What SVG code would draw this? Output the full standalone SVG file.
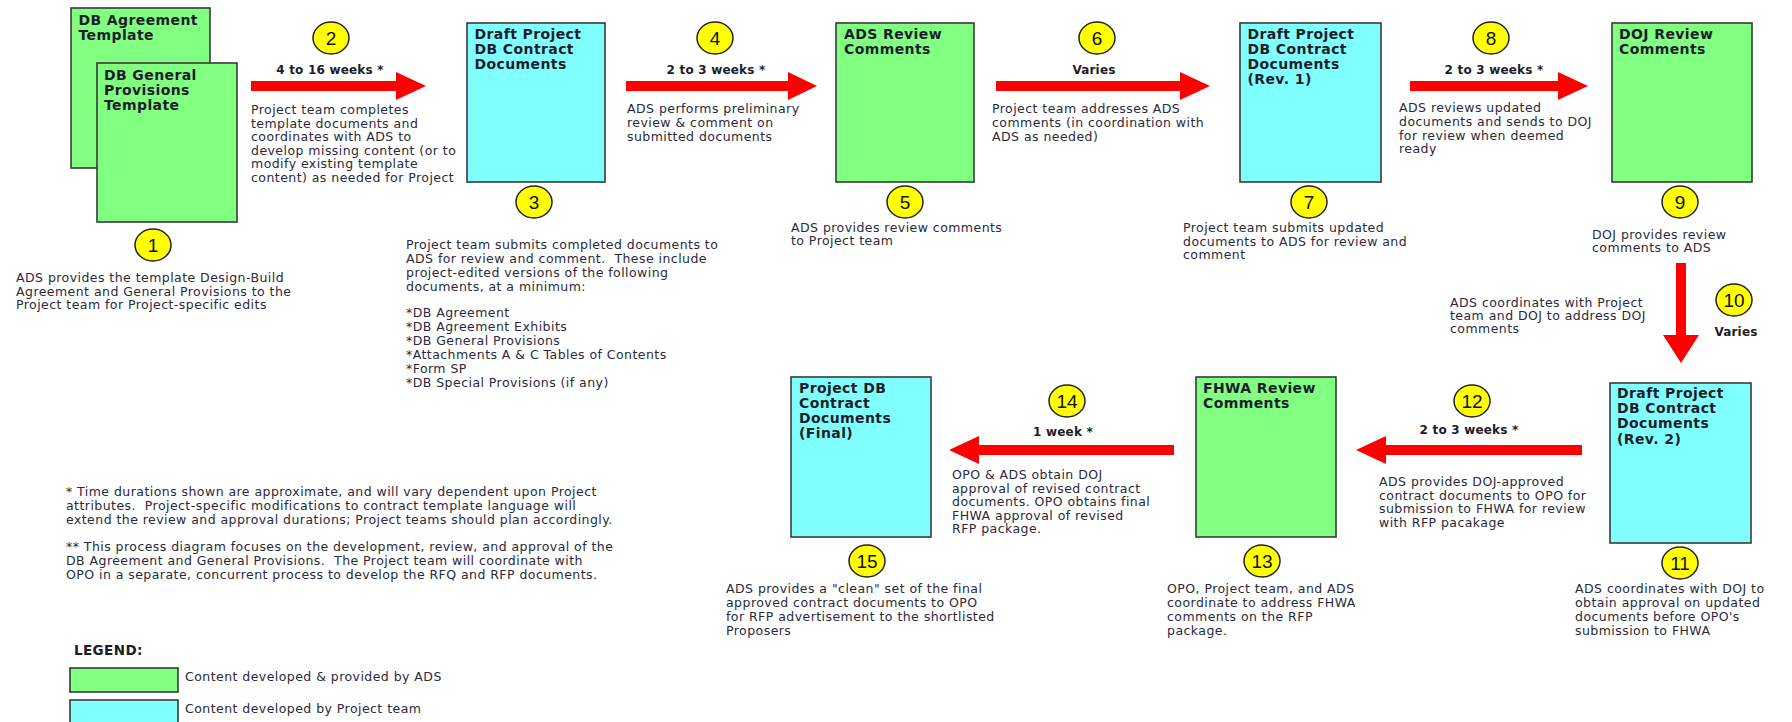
<svg xmlns="http://www.w3.org/2000/svg" width="1792" height="722" viewBox="0 0 1792 722">
<style>
.bx{stroke:#3a3a3a;stroke-width:1.6}
.g{fill:#80ff80}
.c{fill:#80ffff}
.t{font-family:"DejaVu Sans",sans-serif;font-weight:bold;font-size:14px;letter-spacing:0.4px;fill:#1c1c2a}
.b{font-family:"DejaVu Sans",sans-serif;font-size:12.5px;letter-spacing:0.45px;fill:#2a2a3a;white-space:pre}
.lbl{font-family:"DejaVu Sans",sans-serif;font-weight:bold;font-size:12px;letter-spacing:0.2px;fill:#1c1c2a;text-anchor:middle}
.n ellipse{fill:#ffff00;stroke:#222;stroke-width:1.5}
.n text{font-family:"Liberation Sans",Arial,sans-serif;font-size:19px;fill:#111;text-anchor:middle}
.arr{fill:#ff0000}
</style>
<rect width="1792" height="722" fill="#ffffff"/>

<g id="connectors">
<path class="arr" d="M251,81 H396 V72 L426,86 L396,100 V91 H251 Z"/>
<path class="arr" d="M626,81 H788 V72 L817,86 L788,100 V91 H626 Z"/>
<path class="arr" d="M996,81 H1180 V72 L1210,86 L1180,100 V91 H996 Z"/>
<path class="arr" d="M1410,81 H1558 V72 L1588,86 L1558,100 V91 H1410 Z"/>
<path class="arr" d="M1676,263 V335 H1663 L1681,363 L1699,335 H1686 V263 Z"/>
<path class="arr" d="M1582,445 H1386 V436 L1356,450 L1386,464 V455 H1582 Z"/>
<path class="arr" d="M1174,445 H979 V436 L949,450 L979,464 V455 H1174 Z"/>
</g>

<g id="node-db-agreement-template">
<rect class="bx g" x="71" y="8" width="139" height="160"/>
<text class="t"><tspan x="78.5" y="24.5">DB Agreement</tspan><tspan x="78.5" y="39.5">Template</tspan></text>
</g>
<g id="node-db-general-provisions-template">
<rect class="bx g" x="97" y="63" width="140" height="159"/>
<text class="t"><tspan x="104" y="80">DB General</tspan><tspan x="104" y="95">Provisions</tspan><tspan x="104" y="110">Template</tspan></text>
</g>
<g id="node-draft">
<rect class="bx c" x="467" y="23" width="138" height="159"/>
<text class="t"><tspan x="474.5" y="39">Draft Project</tspan><tspan x="474.5" y="54">DB Contract</tspan><tspan x="474.5" y="69">Documents</tspan></text>
</g>
<g id="node-ads-review">
<rect class="bx g" x="836" y="23" width="138" height="159"/>
<text class="t"><tspan x="844" y="39">ADS Review</tspan><tspan x="844" y="54">Comments</tspan></text>
</g>
<g id="node-draft-rev1">
<rect class="bx c" x="1240" y="23" width="141" height="159"/>
<text class="t"><tspan x="1247.5" y="39">Draft Project</tspan><tspan x="1247.5" y="54">DB Contract</tspan><tspan x="1247.5" y="69">Documents</tspan><tspan x="1247.5" y="84">(Rev. 1)</tspan></text>
</g>
<g id="node-doj-review">
<rect class="bx g" x="1612" y="23" width="140" height="159"/>
<text class="t"><tspan x="1619" y="39">DOJ Review</tspan><tspan x="1619" y="54">Comments</tspan></text>
</g>
<g id="node-draft-rev2">
<rect class="bx c" x="1610" y="383" width="141" height="160"/>
<text class="t"><tspan x="1617" y="398">Draft Project</tspan><tspan x="1617" y="413">DB Contract</tspan><tspan x="1617" y="428">Documents</tspan><tspan x="1617" y="444">(Rev. 2)</tspan></text>
</g>
<g id="node-fhwa-review">
<rect class="bx g" x="1196" y="377" width="140" height="160"/>
<text class="t"><tspan x="1203" y="393">FHWA Review</tspan><tspan x="1203" y="408">Comments</tspan></text>
</g>
<g id="node-final">
<rect class="bx c" x="791" y="377" width="140" height="160"/>
<text class="t"><tspan x="799" y="393">Project DB</tspan><tspan x="799" y="408">Contract</tspan><tspan x="799" y="423">Documents</tspan><tspan x="799" y="438">(Final)</tspan></text>
</g>

<g id="step-numbers" class="n">
<g id="num-1"><ellipse cx="153" cy="245" rx="18" ry="16"/><text x="153" y="251.5">1</text></g>
<g id="num-2"><ellipse cx="331" cy="38" rx="18" ry="16"/><text x="331" y="44.5">2</text></g>
<g id="num-3"><ellipse cx="534" cy="202" rx="18" ry="16"/><text x="534" y="208.5">3</text></g>
<g id="num-4"><ellipse cx="715" cy="38" rx="18" ry="16"/><text x="715" y="44.5">4</text></g>
<g id="num-5"><ellipse cx="905" cy="202" rx="18" ry="16"/><text x="905" y="208.5">5</text></g>
<g id="num-6"><ellipse cx="1097" cy="38" rx="18" ry="16"/><text x="1097" y="44.5">6</text></g>
<g id="num-7"><ellipse cx="1309" cy="202" rx="18" ry="16"/><text x="1309" y="208.5">7</text></g>
<g id="num-8"><ellipse cx="1491" cy="38" rx="18" ry="16"/><text x="1491" y="44.5">8</text></g>
<g id="num-9"><ellipse cx="1680" cy="202" rx="18" ry="16"/><text x="1680" y="208.5">9</text></g>
<g id="num-10"><ellipse cx="1734" cy="300" rx="18" ry="16"/><text x="1734" y="306.5">10</text></g>
<g id="num-11"><ellipse cx="1680" cy="563" rx="18" ry="16"/><text x="1680" y="569.5">11</text></g>
<g id="num-12"><ellipse cx="1472" cy="401" rx="18" ry="16"/><text x="1472" y="407.5">12</text></g>
<g id="num-13"><ellipse cx="1262" cy="561" rx="18" ry="16"/><text x="1262" y="567.5">13</text></g>
<g id="num-14"><ellipse cx="1067" cy="401" rx="18" ry="16"/><text x="1067" y="407.5">14</text></g>
<g id="num-15"><ellipse cx="867" cy="561" rx="18" ry="16"/><text x="867" y="567.5">15</text></g>
</g>

<g id="durations">
<text class="lbl" x="330" y="74">4 to 16 weeks *</text>
<text class="lbl" x="716" y="74">2 to 3 weeks *</text>
<text class="lbl" x="1094" y="74">Varies</text>
<text class="lbl" x="1494" y="74">2 to 3 weeks *</text>
<text class="lbl" x="1736" y="336">Varies</text>
<text class="lbl" x="1469" y="434">2 to 3 weeks *</text>
<text class="lbl" x="1063" y="436">1 week *</text>
</g>

<g id="descriptions">
<text class="b"><tspan x="16" y="282">ADS provides the template Design-Build</tspan><tspan x="16" y="296">Agreement and General Provisions to the</tspan><tspan x="16" y="309">Project team for Project-specific edits</tspan></text>
<text class="b"><tspan x="251" y="114">Project team completes</tspan><tspan x="251" y="127.5">template documents and</tspan><tspan x="251" y="141">coordinates with ADS to</tspan><tspan x="251" y="154.5">develop missing content (or to</tspan><tspan x="251" y="168">modify existing template</tspan><tspan x="251" y="181.5">content) as needed for Project</tspan></text>
<text class="b"><tspan x="406" y="249">Project team submits completed documents to</tspan><tspan x="406" y="263">ADS for review and comment.  These include</tspan><tspan x="406" y="277">project-edited versions of the following</tspan><tspan x="406" y="291">documents, at a minimum:</tspan><tspan x="406" y="317">*DB Agreement</tspan><tspan x="406" y="331">*DB Agreement Exhibits</tspan><tspan x="406" y="345">*DB General Provisions</tspan><tspan x="406" y="359">*Attachments A &amp; C Tables of Contents</tspan><tspan x="406" y="373">*Form SP</tspan><tspan x="406" y="387">*DB Special Provisions (if any)</tspan></text>
<text class="b"><tspan x="627" y="113">ADS performs preliminary</tspan><tspan x="627" y="127">review &amp; comment on</tspan><tspan x="627" y="141">submitted documents</tspan></text>
<text class="b"><tspan x="791" y="232">ADS provides review comments</tspan><tspan x="791" y="245">to Project team</tspan></text>
<text class="b"><tspan x="992" y="113">Project team addresses ADS</tspan><tspan x="992" y="127">comments (in coordination with</tspan><tspan x="992" y="141">ADS as needed)</tspan></text>
<text class="b"><tspan x="1183" y="232">Project team submits updated</tspan><tspan x="1183" y="245.5">documents to ADS for review and</tspan><tspan x="1183" y="259">comment</tspan></text>
<text class="b"><tspan x="1399" y="112">ADS reviews updated</tspan><tspan x="1399" y="126">documents and sends to DOJ</tspan><tspan x="1399" y="140">for review when deemed</tspan><tspan x="1399" y="153">ready</tspan></text>
<text class="b"><tspan x="1592" y="239">DOJ provides review</tspan><tspan x="1592" y="252">comments to ADS</tspan></text>
<text class="b"><tspan x="1450" y="307">ADS coordinates with Project</tspan><tspan x="1450" y="320">team and DOJ to address DOJ</tspan><tspan x="1450" y="333">comments</tspan></text>
<text class="b"><tspan x="1575" y="593">ADS coordinates with DOJ to</tspan><tspan x="1575" y="607">obtain approval on updated</tspan><tspan x="1575" y="621">documents before OPO's</tspan><tspan x="1575" y="635">submission to FHWA</tspan></text>
<text class="b"><tspan x="1379" y="486">ADS provides DOJ-approved</tspan><tspan x="1379" y="499.5">contract documents to OPO for</tspan><tspan x="1379" y="513">submission to FHWA for review</tspan><tspan x="1379" y="526.5">with RFP pacakage</tspan></text>
<text class="b"><tspan x="1167" y="593">OPO, Project team, and ADS</tspan><tspan x="1167" y="607">coordinate to address FHWA</tspan><tspan x="1167" y="621">comments on the RFP</tspan><tspan x="1167" y="635">package.</tspan></text>
<text class="b"><tspan x="952" y="479">OPO &amp; ADS obtain DOJ</tspan><tspan x="952" y="492.5">approval of revised contract</tspan><tspan x="952" y="506">documents. OPO obtains final</tspan><tspan x="952" y="519.5">FHWA approval of revised</tspan><tspan x="952" y="533">RFP package.</tspan></text>
<text class="b"><tspan x="726" y="593">ADS provides a "clean" set of the final</tspan><tspan x="726" y="607">approved contract documents to OPO</tspan><tspan x="726" y="621">for RFP advertisement to the shortlisted</tspan><tspan x="726" y="635">Proposers</tspan></text>
</g>

<g id="notes">
<text class="b"><tspan x="66" y="496">* Time durations shown are approximate, and will vary dependent upon Project</tspan><tspan x="66" y="510">attributes.  Project-specific modifications to contract template language will</tspan><tspan x="66" y="523.5">extend the review and approval durations; Project teams should plan accordingly.</tspan><tspan x="66" y="551">** This process diagram focuses on the development, review, and approval of the</tspan><tspan x="66" y="565">DB Agreement and General Provisions.  The Project team will coordinate with</tspan><tspan x="66" y="579">OPO in a separate, concurrent process to develop the RFQ and RFP documents.</tspan></text>
</g>

<g id="legend">
<text class="t" x="74" y="655" style="font-size:13.5px">LEGEND:</text>
<rect class="bx g" x="70" y="668" width="108" height="24"/>
<text class="b" x="185" y="681">Content developed &amp; provided by ADS</text>
<rect class="bx c" x="70" y="700" width="108" height="26"/>
<text class="b" x="185" y="713">Content developed by Project team</text>
</g>
</svg>
